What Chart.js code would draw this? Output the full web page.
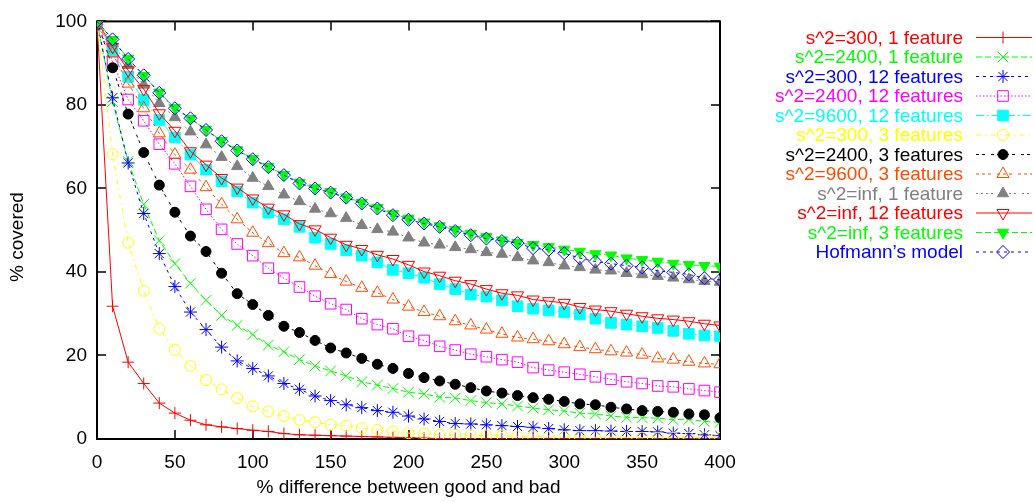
<!DOCTYPE html>
<html>
<head>
<meta charset="utf-8">
<title>% covered vs % difference</title>
<script src="https://cdn.jsdelivr.net/npm/chart.js@4/dist/chart.umd.min.js"></script>
<style>
  html, body { margin: 0; padding: 0; background: #fff; }
  #wrap { position: relative; width: 1034px; height: 502px; }
</style>
</head>
<body>
<div id="wrap"><canvas id="coverChart" width="1034" height="502"></canvas></div>
<script>
// x values: % difference between good and bad
const pctDiff = [0, 10, 20, 30, 40, 50, 60, 70, 80, 90, 100, 110, 120, 130, 140, 150, 160, 170, 180, 190, 200,
  210, 220, 230, 240, 250, 260, 270, 280, 290, 300, 310, 320, 330, 340, 350, 360, 370, 380, 390, 400];

const xTicks = [0, 50, 100, 150, 200, 250, 300, 350, 400];
const yTicks = [0, 20, 40, 60, 80, 100];

// % covered, one array per curve
const s300f1 = [100, 31.8, 18.4, 13.3, 8.6, 6.2, 4.5, 3.4, 2.9, 2.5, 2.1, 1.8, 1.3, 1.0, 0.9, 0.8, 0.7, 0.6, 0.5, 0.4, 0.3,
  0.2, 0.1, 0.1, 0, 0, 0, 0, 0, 0, 0, 0, 0, 0, 0, 0, 0, 0, 0, 0, 0];
const s2400f1 = [100, 80.8, 66.5, 56.2, 47.5, 42.0, 37.3, 33.2, 29.6, 27.2, 25.0, 22.5, 20.9, 19.0, 17.5, 16.3, 15.1, 13.7, 12.9, 12.1, 11.2,
  10.8, 10.0, 9.8, 9.2, 8.7, 8.4, 7.9, 7.4, 7.0, 6.7, 6.2, 6.0, 5.5, 5.2, 5.1, 5.0, 4.6, 4.7, 4.2, 4.0];
const s300f12 = [100, 81.7, 66.1, 54.0, 44.4, 36.5, 30.4, 26.2, 22.0, 18.7, 16.9, 15.1, 13.3, 11.9, 10.3, 9.2, 8.2, 7.5, 6.8, 6.4, 5.5,
  4.8, 4.2, 3.7, 3.6, 3.4, 3.2, 3.0, 2.8, 2.5, 2.2, 2.0, 2.0, 1.9, 1.8, 1.8, 1.7, 1.4, 1.3, 1.0, 0.8];
const s2400f12 = [100, 90.3, 81.3, 76.2, 70.6, 65.9, 60.5, 55.0, 50.2, 46.7, 43.9, 40.9, 38.5, 36.4, 34.2, 32.4, 31.0, 28.8, 27.4, 26.4, 24.6,
  23.6, 22.2, 21.3, 20.3, 19.7, 19.0, 18.4, 17.1, 16.5, 16.0, 15.5, 14.9, 14.3, 13.7, 13.3, 12.7, 12.5, 12.0, 11.6, 11.2];
const s9600f12 = [100, 93.0, 86.7, 81.2, 76.4, 72.2, 68.1, 64.5, 61.7, 59.3, 56.6, 54.2, 52.6, 50.8, 48.2, 46.7, 45.2, 43.9, 42.3, 40.5, 39.7,
  38.6, 37.1, 35.9, 34.6, 34.1, 33.2, 31.8, 31.2, 30.8, 30.4, 29.8, 28.8, 27.8, 27.4, 27.0, 26.6, 25.9, 25.2, 24.8, 24.6];
const s300f3 = [100, 68.2, 47.0, 35.5, 26.4, 21.4, 17.5, 14.1, 11.9, 9.8, 7.8, 6.6, 5.5, 4.6, 4.0, 3.4, 3.2, 2.6, 2.2, 1.8, 1.4,
  1.3, 1.0, 1.0, 0.9, 0.8, 0.8, 0.6, 0.6, 0.5, 0.5, 0.5, 0.4, 0.4, 0.4, 0.3, 0.3, 0.3, 0.3, 0.3, 0.3];
const s2400f3 = [100, 88.9, 77.8, 68.6, 60.8, 54.3, 48.6, 44.9, 39.7, 34.8, 32.2, 29.6, 27.0, 25.5, 23.6, 21.8, 20.6, 19.3, 17.9, 16.9, 15.7,
  14.7, 13.9, 13.1, 12.3, 11.5, 11.0, 10.4, 9.9, 9.5, 9.0, 8.4, 8.2, 7.6, 7.2, 6.8, 6.6, 6.4, 6.0, 5.8, 5.1];
const s9600f3 = [100, 92.3, 85.1, 79.2, 73.2, 68.1, 64.5, 60.3, 56.2, 52.6, 49.4, 46.9, 44.5, 43.5, 41.5, 39.5, 37.7, 36.2, 35.0, 33.4, 31.7,
  30.4, 29.4, 28.2, 27.2, 26.2, 25.2, 24.3, 23.9, 23.4, 22.7, 22.0, 21.5, 21.0, 20.7, 20.2, 19.3, 19.0, 18.5, 18.1, 17.9];
const sInfF1 = [100, 94.8, 89.5, 84.8, 80.4, 77.0, 73.6, 70.5, 67.5, 65.3, 62.5, 60.5, 58.5, 56.9, 55.1, 54.0, 52.9, 51.2, 50.2, 49.6, 48.2,
  47.0, 46.5, 45.9, 45.4, 44.7, 44.3, 43.5, 42.7, 42.3, 41.5, 41.1, 40.5, 40.3, 39.7, 39.4, 39.0, 38.6, 38.2, 37.8, 37.6];
const sInfF12 = [100, 93.9, 88.3, 83.8, 78.0, 73.8, 68.9, 65.7, 62.5, 60.2, 57.6, 55.4, 53.8, 51.5, 50.2, 48.2, 46.5, 45.5, 44.1, 43.1, 41.7,
  40.1, 39.1, 37.9, 37.1, 35.9, 34.9, 34.4, 33.4, 33.0, 32.6, 31.6, 31.0, 30.6, 30.0, 29.4, 28.9, 28.6, 28.2, 27.6, 27.2];
const sInfF3 = [100, 95.6, 91.1, 87.0, 83.0, 79.3, 76.7, 74.1, 71.4, 69.2, 67.1, 65.2, 63.3, 61.4, 60.1, 59.2, 57.9, 56.6, 55.4, 53.9, 52.8,
  51.9, 51.0, 50.1, 49.2, 48.4, 47.6, 47.0, 46.5, 46.0, 45.4, 44.9, 44.3, 44.0, 43.3, 42.9, 42.5, 42.0, 41.7, 41.5, 41.3];
const hofmann = [100, 95.7, 91.0, 87.1, 82.9, 79.2, 76.8, 74.0, 71.3, 69.1, 67.0, 65.1, 63.2, 61.2, 60.0, 59.0, 57.8, 56.4, 55.2, 53.6, 52.5,
  51.6, 50.8, 49.8, 48.8, 48.0, 47.4, 46.9, 45.7, 45.3, 44.5, 43.3, 42.5, 42.0, 41.5, 41.1, 40.3, 39.9, 39.4, 38.5, 38.1];

const seriesNames = [
  's^2=300, 1 feature', 's^2=2400, 1 feature', 's^2=300, 12 features', 's^2=2400, 12 features',
  's^2=9600, 12 features', 's^2=300, 3 features', 's^2=2400, 3 features', 's^2=9600, 3 features',
  's^2=inf, 1 feature', 's^2=inf, 12 features', 's^2=inf, 3 features', 'Hofmann\u2019s model'
];
const seriesValues = [s300f1, s2400f1, s300f12, s2400f12, s9600f12, s300f3, s2400f3, s9600f3, sInfF1, sInfF12, sInfF3, hofmann];

// gnuplot-like line types: colour, dash, marker
const looks = [
  { color: '#ff0000', dash: [],                     style: 'cross',    r: 6,   fill: false },
  { color: '#00ff00', dash: [6, 3],                 style: 'crossRot', r: 7.5, fill: false },
  { color: '#0000ff', dash: [3, 4],                 style: 'star',     r: 6.5, fill: false },
  { color: '#ff00ff', dash: [1.5, 2],               style: 'rect',     r: 7.5, fill: false },
  { color: '#00ffff', dash: [8, 3, 1.5, 3],         style: 'rect',     r: 7.5, fill: true },
  { color: '#ffff00', dash: [5, 4, 1.5, 4],         style: 'circle',   r: 5.5, fill: false },
  { color: '#000000', dash: [3, 3, 3, 6],           style: 'circle',   r: 5,   fill: true },
  { color: '#ff4d00', dash: [3, 3, 3, 3, 3, 6],     style: 'triangle', r: 7,   fill: false },
  { color: '#808080', dash: [2, 3, 2, 3, 2, 3, 2, 6], style: 'triangle', r: 6.5, fill: true },
  { color: '#ff0000', dash: [],                     style: 'triangle', r: 7,   fill: false, rot: 180 },
  { color: '#00ff00', dash: [6, 3],                 style: 'triangle', r: 6.5, fill: true,  rot: 180 },
  { color: '#0000ff', dash: [3, 4],                 style: 'rectRot',  r: 6.5, fill: false }
];

const FONT = '19px "Liberation Sans", Arial, Helvetica, sans-serif';

const datasets = seriesValues.map((vals, i) => {
  const lk = looks[i];
  return {
    label: seriesNames[i],
    data: vals.map((v, j) => ({ x: pctDiff[j], y: v })),
    borderColor: lk.color,
    backgroundColor: lk.fill ? lk.color : 'rgba(0,0,0,0)',
    borderWidth: 1,
    borderDash: lk.dash,
    pointStyle: lk.style,
    pointRadius: lk.r,
    pointRotation: lk.rot || 0,
    pointBorderWidth: 1,
    pointBorderColor: lk.color,
    pointBackgroundColor: lk.fill ? lk.color : 'rgba(0,0,0,0)',
    tension: 0,
    order: seriesValues.length - i
  };
});

// box, inward ticks and axis titles, gnuplot style
const framePlugin = {
  id: 'frame',
  beforeDatasetsDraw(chart) {
    const { ctx, chartArea: a, scales: { x, y } } = chart;
    ctx.save();
    ctx.strokeStyle = '#000';
    ctx.lineWidth = 1.5;
    ctx.beginPath();
    x.ticks.forEach(t => {
      const px = Math.round(x.getPixelForValue(t.value));
      ctx.moveTo(px, a.bottom); ctx.lineTo(px, a.bottom - 9);
      ctx.moveTo(px, a.top); ctx.lineTo(px, a.top + 9);
    });
    y.ticks.forEach(t => {
      const py = Math.round(y.getPixelForValue(t.value));
      ctx.moveTo(a.left, py); ctx.lineTo(a.left + 9, py);
      ctx.moveTo(a.right, py); ctx.lineTo(a.right - 9, py);
    });
    ctx.stroke();
    ctx.lineWidth = 2;
    ctx.strokeRect(a.left, a.top, a.right - a.left, a.bottom - a.top);

    ctx.fillStyle = '#000';
    ctx.font = FONT;
    ctx.textAlign = 'center';
    ctx.textBaseline = 'middle';
    ctx.fillText('% difference between good and bad', (a.left + a.right) / 2, 488);
    ctx.translate(18, 237);
    ctx.rotate(-Math.PI / 2);
    ctx.fillText('% covered', 0, 0);
    ctx.restore();
  }
};

// key on the right: text first, then line sample with its marker
const keyPlugin = {
  id: 'key',
  afterDraw(chart) {
    const ctx = chart.ctx;
    ctx.save();
    chart.data.datasets.forEach((ds, i) => {
      const yy = 37.5 + i * 19.5;
      ctx.font = FONT;
      ctx.textAlign = 'right';
      ctx.textBaseline = 'middle';
      ctx.fillStyle = ds.borderColor;
      ctx.fillText(ds.label, 963, yy + 1);

      ctx.strokeStyle = ds.borderColor;
      ctx.lineWidth = 1;
      ctx.setLineDash(ds.borderDash);
      ctx.beginPath();
      ctx.moveTo(976, yy);
      ctx.lineTo(1032, yy);
      ctx.stroke();
      ctx.setLineDash([]);

      ctx.fillStyle = ds.pointBackgroundColor;
      ctx.strokeStyle = ds.pointBorderColor;
      if (Chart.helpers && Chart.helpers.drawPoint) {
        Chart.helpers.drawPoint(ctx, {
          pointStyle: ds.pointStyle,
          radius: ds.pointRadius,
          rotation: ds.pointRotation,
          borderWidth: 1
        }, 1003, yy);
      }
    });
    ctx.restore();
  }
};

new Chart(document.getElementById('coverChart'), {
  type: 'line',
  data: { datasets: datasets },
  options: {
    responsive: false,
    animation: false,
    layout: { padding: { top: 19, right: 314, left: 0, bottom: 0 } },
    plugins: {
      legend: { display: false },
      tooltip: { enabled: false }
    },
    scales: {
      x: {
        type: 'linear',
        min: 0,
        max: 400,
        afterFit: s => { s.height = 63; },
        afterBuildTicks: s => { s.ticks = xTicks.map(v => ({ value: v })); },
        grid: { display: false, drawTicks: false },
        border: { display: false },
        ticks: { color: '#000', font: { family: '"Liberation Sans", Arial, sans-serif', size: 19 }, padding: 12, maxRotation: 0 }
      },
      y: {
        min: 0,
        max: 100,
        afterFit: s => { s.width = 97; },
        afterBuildTicks: s => { s.ticks = yTicks.map(v => ({ value: v })); },
        grid: { display: false, drawTicks: false },
        border: { display: false },
        ticks: { color: '#000', font: { family: '"Liberation Sans", Arial, sans-serif', size: 19 }, padding: 10 }
      }
    }
  },
  plugins: [framePlugin, keyPlugin]
});
</script>
</body>
</html>
